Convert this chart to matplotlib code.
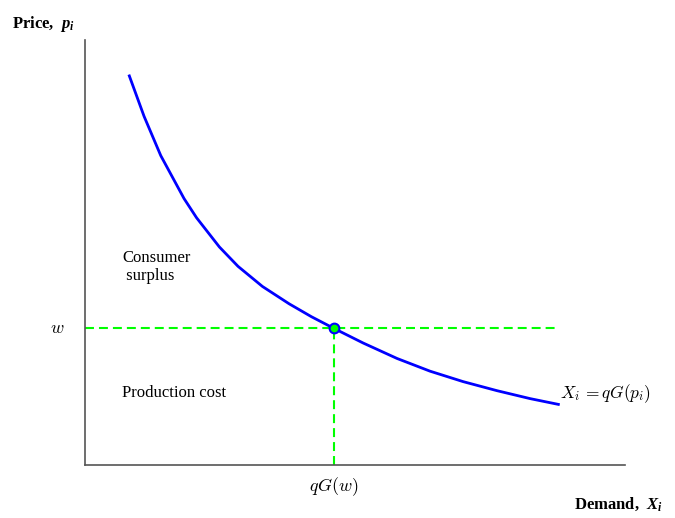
import matplotlib
matplotlib.use("Agg")
import matplotlib.pyplot as plt

# demand curve (x = quantity, y = price)
curve_x = [0.820, 1.093, 1.402, 1.833, 2.065, 2.489, 2.833, 3.285, 3.778, 4.194,
           4.611, 5.148, 5.778, 6.389, 7.000, 7.630, 8.241, 8.765]
curve_y = [9.153, 8.202, 7.278, 6.268, 5.816, 5.127, 4.673, 4.200, 3.793, 3.487,
           3.212, 2.871, 2.506, 2.207, 1.962, 1.748, 1.562, 1.426]

# equilibrium point (qG(w), w)
eq_x = 4.611
eq_y = 3.212
line_end = 8.765

plt.rcParams["font.family"] = ["Liberation Serif", "DejaVu Serif"]
plt.rcParams["mathtext.fontset"] = "custom"
plt.rcParams["mathtext.rm"] = "Liberation Serif"
plt.rcParams["mathtext.it"] = "Liberation Serif:italic"
plt.rcParams["mathtext.bf"] = "Liberation Serif:bold"
plt.rcParams["mathtext.bfit"] = "Liberation Serif:italic:bold"

fig = plt.figure(figsize=(6.75, 5.18), dpi=100)
ax = fig.add_axes([0.126, 0.1023, 0.8, 0.8207])
ax.set_xlim(0, 10)
ax.set_ylim(0, 10)

# dashed guide lines
ax.plot([0, line_end], [eq_y, eq_y], color="#00ff00", lw=1.5, dashes=(4.3, 2.4))
ax.plot([eq_x, eq_x], [0, eq_y], color="#00ff00", lw=1.5, dashes=(4.3, 2.4))

# demand curve
ax.plot(curve_x, curve_y, color="blue", lw=2, solid_joinstyle="round")
ax.plot([eq_x], [eq_y], "o", ms=7, mfc="#00ff00", mec="blue", mew=1.5)

for s in ["top", "right"]:
    ax.spines[s].set_visible(False)
for s in ["left", "bottom"]:
    ax.spines[s].set_color("#555555")
    ax.spines[s].set_linewidth(1.2)
ax.set_xticks([])
ax.set_yticks([])

# annotations
ax.text(0.685, 5.06, "Consumer\n surplus", fontsize=12, va="top", ha="left", linespacing=1.15)
ax.text(0.685, 1.69, "Production cost", fontsize=12, va="center", ha="left")
ax.text(-0.52, eq_y, r"$w$", fontsize=13, ha="center", va="center",
        math_fontfamily="cm", clip_on=False)
ax.text(eq_x, -0.52, r"$qG(w)$", fontsize=13, ha="center", va="center",
        math_fontfamily="cm", clip_on=False)
ax.text(8.8, 1.69, r"$X_i\,{=}qG(p_i)$", fontsize=12.5, ha="left", va="center",
        math_fontfamily="cm", clip_on=False)

fig.text(0.018, 0.946, r"Price,  $\mathbfit{p_i}$", fontsize=12, fontweight="bold",
         ha="left", va="baseline")
fig.text(0.850, 0.019, r"Demand,  $\mathbfit{X_i}$", fontsize=12, fontweight="bold",
         ha="left", va="baseline")

fig.savefig("out.png", dpi=100)
